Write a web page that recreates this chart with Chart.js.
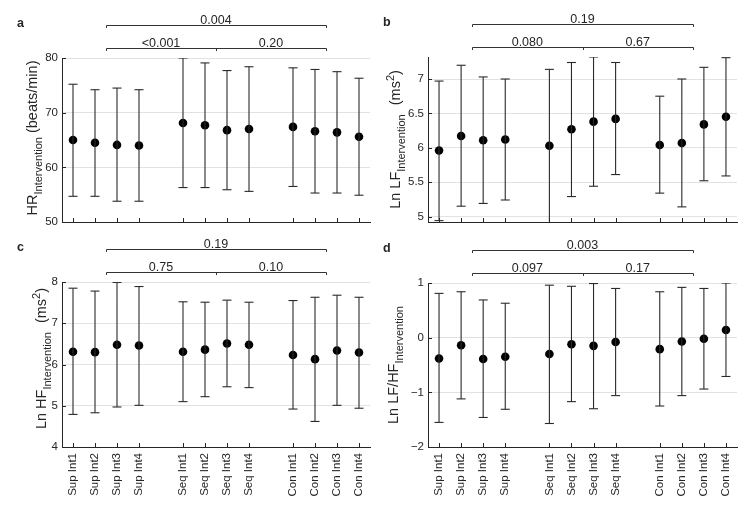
<!DOCTYPE html>
<html>
<head>
<meta charset="utf-8">
<script src="https://cdn.jsdelivr.net/npm/chart.js@4.4.0/dist/chart.umd.min.js"></script>
<style>
  html, body { margin: 0; padding: 0; background: #fff; }
  #wrap { position: relative; width: 751px; height: 505px; }
  #wrap canvas { position: absolute; left: 0; top: 0; display: block; }
</style>
</head>
<body>
<div id="wrap">
  <canvas id="panelA" width="751" height="505"></canvas>
  <canvas id="panelB" width="751" height="505"></canvas>
  <canvas id="panelC" width="751" height="505"></canvas>
  <canvas id="panelD" width="751" height="505"></canvas>
</div>
<script>
// categories and their slots on the x axis (gaps between groups)
const categories = ['Sup Int1', 'Sup Int2', 'Sup Int3', 'Sup Int4',
                    'Seq Int1', 'Seq Int2', 'Seq Int3', 'Seq Int4',
                    'Con Int1', 'Con Int2', 'Con Int3', 'Con Int4'];
const catSlots = [1, 2, 3, 4, 6, 7, 8, 9, 11, 12, 13, 14];

// a - heart rate
const hrMean = [65.0, 64.5, 64.1, 64.0, 68.1, 67.7, 66.8, 67.0, 67.4, 66.6, 66.4, 65.6];
const hrLow  = [54.7, 54.7, 53.8, 53.8, 56.3, 56.3, 55.9, 55.6, 56.5, 55.3, 55.3, 54.9];
const hrHigh = [75.2, 74.2, 74.5, 74.2, 80.0, 79.1, 77.7, 78.4, 78.2, 77.9, 77.5, 76.3];
const hrTicks = [50, 60, 70, 80];
const hrP = ['<0.001', '0.20', '0.004'];

// b - Ln LF
const lfMean = [5.96, 6.17, 6.11, 6.12, 6.03, 6.27, 6.38, 6.42, 6.04, 6.07, 6.34, 6.45];
const lfLow  = [4.94, 5.15, 5.19, 5.24, 4.90, 5.29, 5.44, 5.61, 5.34, 5.14, 5.52, 5.59];
const lfHigh = [6.97, 7.20, 7.03, 7.00, 7.14, 7.24, 7.32, 7.24, 6.75, 7.00, 7.17, 7.31];
const lfTicks = [5, 5.5, 6, 6.5, 7];
const lfP = ['0.080', '0.67', '0.19'];

// c - Ln HF
const hfMean = [6.31, 6.30, 6.48, 6.46, 6.31, 6.36, 6.51, 6.48, 6.23, 6.13, 6.34, 6.29];
const hfLow  = [4.79, 4.83, 4.97, 5.01, 5.10, 5.22, 5.46, 5.44, 4.92, 4.62, 5.01, 4.94];
const hfHigh = [7.85, 7.78, 7.99, 7.89, 7.52, 7.51, 7.56, 7.51, 7.55, 7.63, 7.68, 7.63];
const hfTicks = [4, 5, 6, 7, 8];
const hfP = ['0.75', '0.10', '0.19'];

// d - Ln LF/HF
const ratioMean = [-0.38, -0.14, -0.39, -0.35, -0.30, -0.12, -0.15, -0.08, -0.21, -0.07, -0.02, 0.14];
const ratioLow  = [-1.55, -1.12, -1.46, -1.31, -1.57, -1.17, -1.30, -1.06, -1.25, -1.06, -0.94, -0.71];
const ratioHigh = [0.81, 0.84, 0.69, 0.63, 0.96, 0.94, 0.99, 0.90, 0.84, 0.92, 0.90, 1.00];
const ratioTicks = [-2, -1, 0, 1];
const ratioP = ['0.097', '0.17', '0.003'];

// comparison spans (in slot units): Sup vs Seq, Seq vs Con, Sup vs Con
const spanLeft = [2.5, 7.5];
const spanRight = [7.5, 12.5];
const spanAll = [2.5, 12.5];

const FONT = "'Liberation Sans', Arial, Helvetica, sans-serif";
const INK = '#262626';
const BAR = '#2a2a2a';
const GRID = '#e2e2e2';

const fmtTick = v => String(v).replace('-', '\u2212');

// brackets, p-values, inward ticks, panel letter, y title with sub/superscripts
const decorPlugin = {
    id: 'decor',
    afterDraw(chart, args, opts) {
        const { ctx, chartArea: area } = chart;
        const x = chart.scales.x, y = chart.scales.y;
        ctx.save();
        ctx.strokeStyle = INK;
        ctx.lineWidth = 1;

        // inward tick marks
        ctx.beginPath();
        catSlots.forEach(v => {
            const px = Math.round(x.getPixelForValue(v)) + 0.5;
            ctx.moveTo(px, area.bottom);
            ctx.lineTo(px, area.bottom - 4);
        });
        opts.yTicks.forEach(v => {
            const py = Math.round(y.getPixelForValue(v)) + 0.5;
            ctx.moveTo(area.left, py);
            ctx.lineTo(area.left + 4, py);
        });
        ctx.stroke();

        // brackets
        const yTop = Math.round(area.top - 33) + 0.5;
        const yLow = Math.round(area.top - 10) + 0.5;
        const px = v => Math.round(x.getPixelForValue(v)) + 0.5;
        ctx.strokeStyle = '#333';
        ctx.beginPath();
        ctx.moveTo(px(spanAll[0]), yTop + 2.5);
        ctx.lineTo(px(spanAll[0]), yTop);
        ctx.lineTo(px(spanAll[1]), yTop);
        ctx.lineTo(px(spanAll[1]), yTop + 2.5);
        ctx.moveTo(px(spanLeft[0]), yLow + 2.5);
        ctx.lineTo(px(spanLeft[0]), yLow);
        ctx.lineTo(px(spanRight[1]), yLow);
        ctx.lineTo(px(spanRight[1]), yLow + 2.5);
        ctx.moveTo(px(spanLeft[1]), yLow);
        ctx.lineTo(px(spanLeft[1]), yLow + 2.5);
        ctx.stroke();

        ctx.fillStyle = INK;
        ctx.font = '12.5px ' + FONT;
        ctx.textAlign = 'center';
        ctx.textBaseline = 'alphabetic';
        const mid = s => x.getPixelForValue((s[0] + s[1]) / 2);
        ctx.fillText(opts.p[0], mid(spanLeft), yLow - 2);
        ctx.fillText(opts.p[1], mid(spanRight), yLow - 2);
        ctx.fillText(opts.p[2], mid(spanAll), yTop - 2);

        // panel letter
        ctx.font = 'bold 12.5px ' + FONT;
        ctx.textAlign = 'left';
        ctx.fillText(opts.letter, area.left - 45, area.top - 31);

        // y axis title
        const sizeOf = part => part.sub || part.sup ? 11 : 14.5;
        let total = 0;
        opts.title.forEach(part => {
            ctx.font = sizeOf(part) + 'px ' + FONT;
            part.w = ctx.measureText(part.t).width + (part.gap || 0);
            total += part.w;
        });
        ctx.translate(area.left - opts.titleGap, (area.top + area.bottom) / 2 + (opts.titleShift || 0));
        ctx.rotate(-Math.PI / 2);
        let cx = -total / 2;
        opts.title.forEach(part => {
            ctx.font = sizeOf(part) + 'px ' + FONT;
            const dy = part.sub ? 4.5 : (part.sup ? -6 : 0);
            ctx.fillText(part.t, cx + (part.gap || 0), dy);
            cx += part.w;
        });
        ctx.restore();
    }
};

// box = plot area edges on the page: left, right, top, bottom
function buildPanel(canvasId, cfg) {
    const stems = [], caps = [], means = [];
    catSlots.forEach((s, i) => {
        stems.push({ x: s, y: cfg.low[i] }, { x: s, y: cfg.high[i] }, { x: s, y: null });
        caps.push({ x: s, y: cfg.low[i] }, { x: s, y: cfg.high[i] });
        means.push({ x: s, y: cfg.mean[i] });
    });
    const canvas = document.getElementById(canvasId);
    const box = cfg.box;

    return new Chart(canvas, {
        type: 'scatter',
        data: {
            datasets: [
                { data: stems, showLine: true, spanGaps: false, borderColor: BAR, borderWidth: 1.1, pointRadius: 0 },
                { data: caps, pointStyle: 'line', pointRadius: 4.5, borderColor: BAR, borderWidth: 1.1 },
                { data: means, pointStyle: 'circle', pointRadius: 4.3, backgroundColor: '#000', borderColor: '#000', borderWidth: 0 }
            ]
        },
        options: {
            responsive: false,
            animation: false,
            events: [],
            layout: { padding: { left: 0, right: canvas.width - box.right, top: box.top, bottom: 0 } },
            plugins: {
                legend: { display: false },
                tooltip: { enabled: false },
                decor: {
                    yTicks: cfg.ticks, p: cfg.p, letter: cfg.letter, title: cfg.title,
                    titleGap: cfg.titleGap, titleShift: cfg.titleShift
                }
            },
            scales: {
                x: {
                    type: 'linear',
                    position: 'bottom',
                    min: 0.5,
                    max: 14.5,
                    afterBuildTicks: s => { s.ticks = catSlots.map(v => ({ value: v })); },
                    afterFit: s => { s.height = canvas.height - box.bottom; },
                    grid: { display: false, drawTicks: false },
                    border: { display: true, color: INK, width: 1 },
                    ticks: {
                        display: cfg.showLabels,
                        autoSkip: false,
                        minRotation: 90,
                        maxRotation: 90,
                        padding: 6,
                        color: INK,
                        font: { family: FONT, size: 11.5 },
                        callback: (v, i) => categories[i]
                    }
                },
                y: {
                    type: 'linear',
                    position: 'left',
                    min: cfg.min,
                    max: cfg.max,
                    afterBuildTicks: s => { s.ticks = cfg.ticks.map(v => ({ value: v })); },
                    afterFit: s => { s.width = box.left; },
                    grid: { color: GRID, lineWidth: 1, drawTicks: false },
                    border: { display: true, color: INK, width: 1 },
                    ticks: {
                        padding: 4,
                        color: INK,
                        font: { family: FONT, size: 11.5 },
                        callback: v => fmtTick(v)
                    }
                }
            }
        },
        plugins: [decorPlugin]
    });
}

buildPanel('panelA', {
    mean: hrMean, low: hrLow, high: hrHigh, ticks: hrTicks, p: hrP, min: 50, max: 80,
    letter: 'a', showLabels: false, titleGap: 25, titleShift: -2,
    box: { left: 62, right: 370, top: 58, bottom: 222 },
    title: [{ t: 'HR' }, { t: 'Intervention', sub: true }, { t: ' (beats/min)' }]
});
buildPanel('panelB', {
    mean: lfMean, low: lfLow, high: lfHigh, ticks: lfTicks, p: lfP, min: 4.92, max: 7.32,
    letter: 'b', showLabels: false, titleGap: 28, titleShift: 0,
    box: { left: 428, right: 737, top: 57, bottom: 222 },
    title: [{ t: 'Ln LF' }, { t: 'Intervention', sub: true }, { t: ' (ms', gap: 5 }, { t: '2', sup: true }, { t: ')' }]
});
buildPanel('panelC', {
    mean: hfMean, low: hfLow, high: hfHigh, ticks: hfTicks, p: hfP, min: 4, max: 8,
    letter: 'c', showLabels: true, titleGap: 16, titleShift: -6,
    box: { left: 62, right: 370, top: 282, bottom: 447 },
    title: [{ t: 'Ln HF' }, { t: 'Intervention', sub: true }, { t: ' (ms', gap: 5 }, { t: '2', sup: true }, { t: ')' }]
});
buildPanel('panelD', {
    mean: ratioMean, low: ratioLow, high: ratioHigh, ticks: ratioTicks, p: ratioP, min: -2, max: 1,
    letter: 'd', showLabels: true, titleGap: 30, titleShift: 0,
    box: { left: 428, right: 737, top: 283, bottom: 447 },
    title: [{ t: 'Ln LF/HF' }, { t: 'Intervention', sub: true }]
});
</script>
</body>
</html>
